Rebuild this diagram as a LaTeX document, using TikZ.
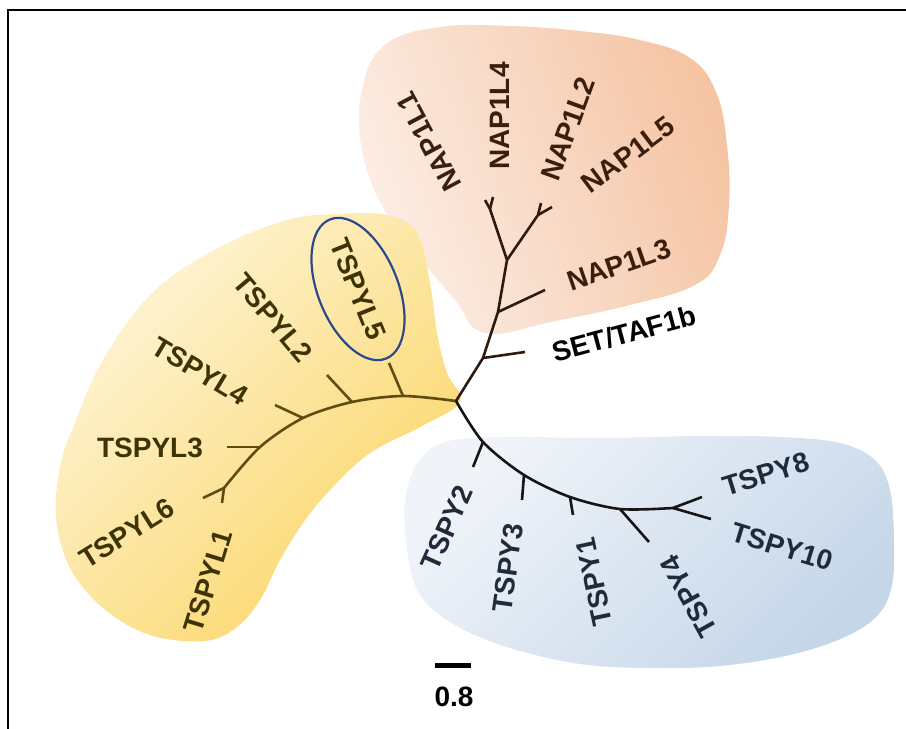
\documentclass[tikz,border=0pt]{standalone}
\usepackage{fontspec}
\setmainfont{Liberation Sans}
\usetikzlibrary{shapes.geometric}
\definecolor{orgLight}{HTML}{FCEEE6}
\definecolor{orgDark}{HTML}{F5C4A3}
\definecolor{ylwLight}{HTML}{FEF5D8}
\definecolor{ylwDark}{HTML}{FBD565}
\definecolor{bluLight}{HTML}{F0F4F9}
\definecolor{bluDark}{HTML}{C5D6E9}
\definecolor{ylwInk}{HTML}{3D3306}
\definecolor{ylwLine}{HTML}{5E4C12}
\definecolor{napInk}{HTML}{3A1F0E}
\definecolor{napLine}{HTML}{2E1A0E}
\definecolor{spyInk}{HTML}{1F2B3A}
\definecolor{spyLine}{HTML}{151515}
\definecolor{ringBlue}{HTML}{2B4A8C}
\begin{document}
\begin{tikzpicture}[x=1pt,y=-1pt,
  lbl/.style={font=\fontsize{28}{30}\selectfont\bfseries, inner sep=0pt},
  ylbl/.style={lbl, text=ylwInk},
  nlbl/.style={lbl, text=napInk},
  tlbl/.style={lbl, text=spyInk},
  branch/.style={line width=2.6pt, line join=round},
  ybranch/.style={branch, draw=ylwLine},
  nbranch/.style={branch, draw=napLine},
  tbranch/.style={branch, draw=spyLine}]
\useasboundingbox (0,0) rectangle (906,729);

% frame
\draw[line width=2.4pt] (8,729) -- (8,10) -- (906,10);

% clade backgrounds
\shade[top color=orgLight, bottom color=orgDark, shading angle=110]
  plot[smooth cycle, tension=0.7] coordinates {
  (385,45) (440,27) (510,26) (580,31) (640,40) (690,58) (716,92)
  (727,145) (729,205) (720,255) (695,285) (630,305) (555,321) (485,333)
  (455,300) (418,255) (382,205) (362,150) (362,90)};
\shade[top color=ylwLight, bottom color=ylwDark, shading angle=45]
  plot[smooth cycle, tension=0.6] coordinates {
  (287,220) (337,214) (387,215) (417,233) (430,283) (437,333) (447,373)
  (460,402) (420,427) (370,453) (330,490) (303,523) (280,560) (260,600)
  (237,627) (205,641) (150,635) (103,608) (70,568) (56,518) (60,467)
  (72,430) (103,360) (153,292) (220,247)};
\shade[top color=bluLight, bottom color=bluDark, shading angle=45]
  plot[smooth cycle, tension=0.6] coordinates {
  (405,500) (418,462) (445,442) (500,437) (600,438) (700,436) (780,437)
  (840,443) (875,460) (890,490) (894,540) (892,585) (878,615) (845,637)
  (790,655) (720,666) (650,668) (580,664) (510,648) (455,625) (420,595)
  (407,550)};

% tree: common root
\coordinate (root) at (456,401);

% TSPYL clade
\coordinate (jl5) at (403,396);
\coordinate (jl2) at (352,402);
\coordinate (jl4) at (303,418);
\coordinate (jl3) at (260,447);
\coordinate (jl61) at (224,488);
\coordinate (tl5) at (389,363);
\coordinate (tl2) at (327,375);
\coordinate (tl4) at (275,405);
\coordinate (tl3) at (227,447);
\coordinate (tl6) at (203,498);
\coordinate (tl1) at (222,503);
\draw[ybranch] plot[smooth] coordinates {(root) (jl5) (jl2) (jl4) (jl3) (jl61)};
\draw[ybranch] (jl5) -- (tl5);
\draw[ybranch] (jl2) -- (tl2);
\draw[ybranch] (jl4) -- (tl4);
\draw[ybranch] (jl3) -- (tl3);
\draw[ybranch] (jl61) -- (tl6);
\draw[ybranch] (jl61) -- (tl1);

% NAP1L clade and SET/TAF1b
\coordinate (jset) at (483,358);
\coordinate (tset) at (525,352);
\coordinate (jn3) at (498,312);
\coordinate (tn3) at (545,290);
\coordinate (jn) at (507,260);
\coordinate (fa) at (490,209);
\coordinate (tn1) at (485,200);
\coordinate (tn4) at (493,197);
\coordinate (fb) at (538,215);
\coordinate (tn2) at (541,203);
\coordinate (tn5) at (552,207);
\draw[nbranch] (root) -- (jset) -- (jn3) -- (jn) -- (fa) -- (tn1);
\draw[nbranch] (fa) -- (tn4);
\draw[nbranch] (jn) -- (fb) -- (tn2);
\draw[nbranch] (fb) -- (tn5);
\draw[nbranch] (jset) -- (tset);
\draw[nbranch] (jn3) -- (tn3);

% TSPY clade
\coordinate (jt2) at (483,442);
\coordinate (jt3) at (524,475);
\coordinate (jt1) at (570,497);
\coordinate (jt4) at (620,509);
\coordinate (jt8) at (673,508);
\coordinate (tt2) at (473,467);
\coordinate (tt3) at (522,500);
\coordinate (tt1) at (573,515);
\coordinate (tt4) at (649,542);
\coordinate (tt8) at (702,497);
\coordinate (tt10) at (711,519);
\draw[tbranch] plot[smooth] coordinates {(root) (jt2) (jt3) (jt1) (jt4) (jt8)};
\draw[tbranch] (jt2) -- (tt2);
\draw[tbranch] (jt3) -- (tt3);
\draw[tbranch] (jt1) -- (tt1);
\draw[tbranch] (jt4) -- (tt4);
\draw[tbranch] (jt8) -- (tt8);
\draw[tbranch] (jt8) -- (tt10);

% leaf labels
\node[ylbl, rotate=-68, draw=ringBlue, line width=2.2pt, ellipse,
      minimum width=150pt, minimum height=80pt] (L5) at (358,289) {TSPYL5};
\node[ylbl, rotate=-50] (L2) at (273,318) {TSPYL2};
\node[ylbl, rotate=-31] (L4) at (200,371) {TSPYL4};
\node[ylbl] (L3) at (150,448) {TSPYL3};
\node[ylbl, rotate=32] (L6) at (127,533) {TSPYL6};
\node[ylbl, rotate=73] (L1) at (208,581) {TSPYL1};

\node[nlbl, rotate=118] (N1) at (429,142) {NAP1L1};
\node[nlbl, rotate=90] (N4) at (500,116) {NAP1L4};
\node[nlbl, rotate=70] (N2) at (568,129) {NAP1L2};
\node[nlbl, rotate=37] (N5) at (628,155) {NAP1L5};
\node[nlbl, rotate=19] (N3) at (619,265) {NAP1L3};
\node[lbl, rotate=15] (SET) at (624,334) {SET/TAF1b};

\node[tlbl, rotate=66] (T2) at (447,528) {TSPY2};
\node[tlbl, rotate=82] (T3) at (508,568) {TSPY3};
\node[tlbl, rotate=102] (T1) at (594,582) {TSPY1};
\node[tlbl, rotate=119] (T4) at (689,596) {TSPY4};
\node[tlbl, rotate=17] (T8) at (766,474) {TSPY8};
\node[tlbl, rotate=-17] (T10) at (782,547) {TSPY10};

% scale bar
\coordinate (sbl) at (435,665);
\coordinate (sbr) at (471,665);
\draw[line width=5pt] (sbl) -- (sbr);
\node[lbl] (sblabel) at (454,697) {0.8};
\end{tikzpicture}
\end{document}
